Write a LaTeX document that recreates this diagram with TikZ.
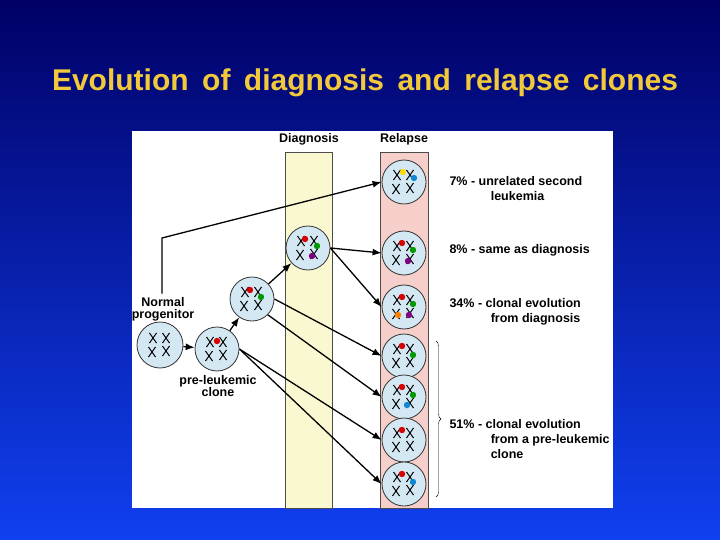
\documentclass[tikz,border=0pt]{standalone}
\usepackage{fontspec}
\setmainfont{Liberation Sans}
\usetikzlibrary{calc,arrows.meta,decorations.pathreplacing}

\definecolor{bgtop}{HTML}{000066}
\definecolor{bgbot}{HTML}{1040F0}
\definecolor{titlecol}{HTML}{F2C93A}
\definecolor{diagcol}{HTML}{FAF8D0}
\definecolor{relcol}{HTML}{F6CFCB}
\definecolor{cellcol}{HTML}{D4E8F4}

\tikzset{
  cell/.style={circle,draw=black!80,thick,fill=cellcol,minimum size=44pt,inner sep=0pt,
    path picture={
      \foreach \a/\b in {-8/-7,6/-6,-7/7,6/7}{
        \draw[black,line width=1pt]
          ($(path picture bounding box.center)+(\a pt,\b pt)+(-3.5pt,-5pt)$) -- ++(7pt,10pt)
          ($(path picture bounding box.center)+(\a pt,\b pt)+(3.5pt,-5pt)$) -- ++(-7pt,10pt);}
    }},
  lbl/.style={font=\bfseries\fontsize{12.5}{13}\selectfont,align=center},
  txt/.style={font=\bfseries\fontsize{12.5}{15}\selectfont,align=left,anchor=west},
  arr/.style={-{Latex[length=9pt,width=7pt]},line width=1.3pt,black}
}
\newcommand{\chrom}[4]{\fill[#4] ($(#1)+(#2,#3)$) circle (3.2pt);}
\newcommand{\gap}{\hspace{0.45em}}

\begin{document}
\begin{tikzpicture}[x=1pt,y=-1pt]
  \shade[top color=bgtop,bottom color=bgbot] (0,0) rectangle (720,540);
  \useasboundingbox (0,0) rectangle (720,540);
  \node[text=titlecol,font=\bfseries\fontsize{30}{32}\selectfont] (title) at (365,83) {Evolution\gap of\gap diagnosis\gap and\gap relapse\gap clones};

  % panel and columns
  \fill[white] (132,131) rectangle (613,508);
  \draw[black!70,fill=diagcol] (285,152) rectangle (332,508);
  \draw[black!70,fill=relcol] (380,152) rectangle (428,508);
  \node[lbl] (hdiag) at (309,139) {Diagnosis};
  \node[lbl] (hrel) at (404,139) {Relapse};

  % cells
  \node[cell,minimum size=46pt] (normal) at (160,345) {};
  \node[cell] (pre) at (217,349) {};
  \node[cell] (inter) at (252,299) {};
  \node[cell] (diag) at (308,248) {};
  \foreach \n/\y in {1/182,2/253,3/307,4/356,5/397,6/440,7/484}
    \node[cell] (r\n) at (404,\y) {};

  % mutations
  \chrom{pre}{0}{-8}{red!85!black}
  \chrom{inter}{-2}{-9}{red!85!black} \chrom{inter}{9}{-2}{green!60!black}
  \chrom{diag}{-3}{-9}{red!85!black} \chrom{diag}{9}{-2}{green!60!black} \chrom{diag}{4}{8}{violet}
  \chrom{r1}{-1}{-10}{yellow!80!orange} \chrom{r1}{10}{-4}{cyan!70!blue}
  \chrom{r2}{-2}{-10}{red!85!black} \chrom{r2}{9}{-3}{green!60!black} \chrom{r2}{4}{8}{violet}
  \chrom{r3}{-2}{-10}{red!85!black} \chrom{r3}{9}{-3}{green!60!black} \chrom{r3}{-6}{8}{orange} \chrom{r3}{5}{8}{violet}
  \chrom{r4}{-2}{-10}{red!85!black} \chrom{r4}{9}{-1}{green!60!black}
  \chrom{r5}{-2}{-10}{red!85!black} \chrom{r5}{9}{-2}{green!60!black} \chrom{r5}{3}{8}{cyan!70!blue}
  \chrom{r6}{-2}{-10}{red!85!black}
  \chrom{r7}{-2}{-10}{red!85!black} \chrom{r7}{9}{-2}{cyan!70!blue}

  \node[lbl] (lnormal) at (163,309) {Normal\\[-1pt]progenitor};
  \node[lbl] (lpre) at (218,386) {pre-leukemic\\[-1pt]clone};

  % arrows
  \coordinate (bend) at (162,238);
  \draw[arr] (lnormal.north -| bend) -- (bend) -- (r1.west);
  \draw[arr] (normal) -- (pre);
  \draw[arr] (pre) -- (inter);
  \draw[arr] (inter) -- (diag);
  \draw[arr] (diag.east) -- (r2.west);
  \draw[arr] (diag.east) -- (r3.west);
  \draw[arr] (inter.east) -- (r4.west);
  \draw[arr] (inter.south east) -- (r5.west);
  \draw[arr] (pre.east) -- (r6.west);
  \draw[arr] (pre.east) -- (r7.west);

  % right-hand labels
  \node[txt] (t1) at (446,189) {7\% - unrelated second\\\hspace{3.3em}leukemia};
  \node[txt] (t2) at (446,250) {8\% - same as diagnosis};
  \node[txt] (t3) at (446,312) {34\% - clonal evolution\\\hspace{3.3em}from diagnosis};
  \draw[decorate,decoration={brace,amplitude=5pt},thin]
    (436,341) -- (436,497);
  \node[txt] (t4) at (446,439) {51\% - clonal evolution\\\hspace{3.3em}from a pre-leukemic\\\hspace{3.3em}clone};
\end{tikzpicture}
\end{document}
